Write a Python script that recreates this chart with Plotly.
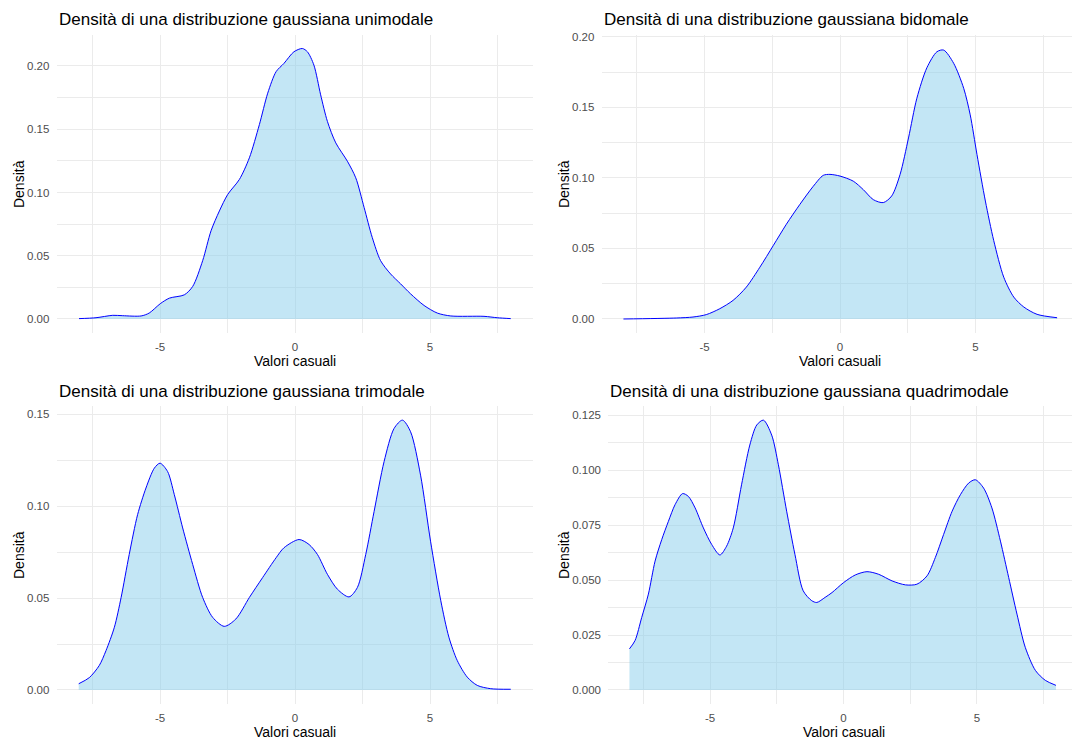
import plotly.graph_objects as go

# ---------------- data ----------------
uni_x = [-8.0, -7.37, -6.75, -6.38, -5.70, -5.40, -4.99, -4.65, -4.10, -3.79, -3.42, -3.11,
         -2.80, -2.49, -2.06, -1.69, -1.32, -1.01, -0.70, -0.41, -0.04, 0.27, 0.46, 0.70,
         0.95, 1.20, 1.51, 1.94, 2.25, 2.56, 2.86, 3.17, 3.54, 3.91, 4.28, 4.78, 5.27,
         5.77, 7.00, 7.49, 7.99]
uni_y = [0.0003, 0.0010, 0.0029, 0.0026, 0.0024, 0.0047, 0.0121, 0.0165, 0.0191, 0.0257,
         0.0461, 0.0697, 0.0854, 0.0985, 0.1103, 0.1274, 0.1536, 0.1785, 0.1955, 0.2020,
         0.2112, 0.2138, 0.2112, 0.2007, 0.1772, 0.1562, 0.1392, 0.1247, 0.1116, 0.0881,
         0.0645, 0.0461, 0.0356, 0.0278, 0.0199, 0.0107, 0.0047, 0.0024, 0.0021, 0.0010,
         0.0003]

bi_x = [-8.0, -6.05, -5.43, -4.94, -4.44, -3.95, -3.46, -2.96, -2.47, -1.98, -1.48, -0.99,
        -0.62, -0.37, 0.00, 0.49, 0.86, 1.23, 1.60, 1.91, 2.22, 2.53, 2.84, 3.21, 3.58,
        3.83, 4.20, 4.57, 4.81, 5.06, 5.37, 5.68, 6.05, 6.42, 6.79, 7.28, 8.02]
bi_y = [0.0000, 0.0007, 0.0014, 0.0031, 0.0073, 0.0132, 0.0226, 0.0367, 0.0519, 0.0672,
        0.0813, 0.0940, 0.1018, 0.1025, 0.1013, 0.0977, 0.0917, 0.0846, 0.0825, 0.0872,
        0.1025, 0.1283, 0.1565, 0.1781, 0.1894, 0.1906, 0.1812, 0.1635, 0.1447, 0.1166,
        0.0836, 0.0555, 0.0296, 0.0155, 0.0085, 0.0033, 0.0009]

tri_x = [-8.01, -7.62, -7.25, -7.00, -6.69, -6.44, -6.14, -5.83, -5.52, -5.21, -5.00, -4.72,
         -4.47, -4.16, -3.79, -3.42, -3.05, -2.62, -2.19, -1.69, -1.20, -0.70, -0.41, 0.15,
         0.52, 0.83, 1.20, 1.57, 2.00, 2.31, 2.62, 2.93, 3.30, 3.67, 3.98, 4.28, 4.65,
         5.02, 5.40, 5.70, 6.01, 6.38, 6.75, 7.25, 7.99]
tri_y = [0.0034, 0.0067, 0.0133, 0.0214, 0.0341, 0.0503, 0.0737, 0.0953, 0.1098, 0.1206,
         0.1233, 0.1188, 0.1062, 0.0881, 0.0683, 0.0503, 0.0395, 0.0346, 0.0386, 0.0503,
         0.0611, 0.0719, 0.0773, 0.0818, 0.0791, 0.0737, 0.0629, 0.0548, 0.0506, 0.0557,
         0.0737, 0.0971, 0.1242, 0.1422, 0.1467, 0.1404, 0.1168, 0.0809, 0.0485, 0.0287,
         0.0160, 0.0070, 0.0025, 0.0007, 0.0004]

quad_x = [-8.02, -7.81, -7.56, -7.31, -7.06, -6.81, -6.56, -6.31, -6.03, -5.81, -5.56, -5.25,
          -4.94, -4.63, -4.38, -4.13, -3.82, -3.51, -3.25, -3.00, -2.69, -2.44, -2.13,
          -1.82, -1.51, -1.19, -1.00, -0.69, -0.43, 0.00, 0.44, 0.88, 1.32, 1.82, 2.32,
          2.75, 3.13, 3.44, 3.75, 4.07, 4.38, 4.69, 4.94, 5.25, 5.56, 5.88, 6.19, 6.50,
          6.81, 7.19, 7.56, 7.96]
quad_y = [0.0187, 0.0225, 0.0330, 0.0436, 0.0586, 0.0684, 0.0767, 0.0843, 0.0893, 0.0880,
          0.0828, 0.0737, 0.0662, 0.0614, 0.0654, 0.0737, 0.0933, 0.1114, 0.1205, 0.1227,
          0.1159, 0.1024, 0.0813, 0.0617, 0.0451, 0.0406, 0.0398, 0.0421, 0.0443, 0.0488,
          0.0523, 0.0538, 0.0526, 0.0496, 0.0478, 0.0481, 0.0519, 0.0602, 0.0707, 0.0813,
          0.0888, 0.0941, 0.0956, 0.0918, 0.0828, 0.0677, 0.0511, 0.0345, 0.0194, 0.0089,
          0.0044, 0.0021]

titles = ["Densità di una distribuzione gaussiana unimodale",
          "Densità di una distribuzione gaussiana bidomale",
          "Densità di una distribuzione gaussiana trimodale",
          "Densità di una distribuzione gaussiana quadrimodale"]
x_label = "Valori casuali"
y_label = "Densità"
x_tick_vals = [-5, 0, 5]
x_tick_text = ["-5", "0", "5"]

series = [(uni_x, uni_y), (bi_x, bi_y), (tri_x, tri_y), (quad_x, quad_y)]

# ---------------- layout (pixel geometry) ----------------
W, H = 1072, 743
FONT = "Liberation Sans, Arial, sans-serif"
GRID = "#EBEBEB"

panels = [
    dict(left=56.7, x0=295.0, sx=27.0, top=31, bottom=331, y0=316.7, sy=1272.0,
         ydt=0.05, yminor=0.025, yfmt=".2f", ytitle_px=19, title_px=16, xtitle_px=358.5),
    dict(left=601.7, x0=840.0, sx=27.07, top=31, bottom=331, y0=316.7, sy=1418.5,
         ydt=0.05, yminor=0.025, yfmt=".2f", ytitle_px=564, title_px=16, xtitle_px=358.5),
    dict(left=56.7, x0=295.0, sx=27.0, top=404, bottom=704, y0=689.7, sy=1849.3,
         ydt=0.05, yminor=0.025, yfmt=".2f", ytitle_px=19, title_px=390, xtitle_px=732),
    dict(left=608.3, x0=843.5, sx=26.69, top=404, bottom=704, y0=689.7, sy=2211.0,
         ydt=0.025, yminor=0.0125, yfmt=".3f", ytitle_px=564, title_px=390, xtitle_px=732),
]

fig = go.Figure()
annotations = []
layout_axes = {}

for i, (p, (xs, ys)) in enumerate(zip(panels, series)):
    n = "" if i == 0 else str(i + 1)
    right = min(W, p["x0"] + (p["x0"] - p["left"]))
    xr = [(p["left"] - p["x0"]) / p["sx"], (right - p["x0"]) / p["sx"]]
    yr = [(p["y0"] - p["bottom"]) / p["sy"], (p["y0"] - p["top"]) / p["sy"]]
    xdom = [p["left"] / W, right / W]
    ydom = [1 - p["bottom"] / H, 1 - p["top"] / H]

    fig.add_trace(go.Scatter(
        x=xs, y=ys, mode="lines", fill="tozeroy",
        fillcolor="rgba(135,206,235,0.5)",
        line=dict(color="#0000FF", width=1, shape="spline", smoothing=0.8),
        xaxis="x" + n, yaxis="y" + n, showlegend=False, hoverinfo="skip"))

    layout_axes["xaxis" + n] = dict(
        domain=xdom, range=xr, anchor="y" + n,
        tickmode="array", tickvals=x_tick_vals, ticktext=x_tick_text,
        showgrid=True, gridcolor=GRID, gridwidth=1.1, zeroline=False,
        showline=False, ticks="outside", ticklen=3, tickcolor="rgba(0,0,0,0)",
        tickfont=dict(family=FONT, size=11.5, color="#4D4D4D"),
        minor=dict(dtick=2.5, tick0=0, showgrid=True, gridcolor=GRID, gridwidth=0.6),
        fixedrange=True)
    layout_axes["yaxis" + n] = dict(
        domain=ydom, range=yr, anchor="x" + n, tick0=0, dtick=p["ydt"],
        tickformat=p["yfmt"], showgrid=True, gridcolor=GRID, gridwidth=1.1,
        zeroline=False, showline=False, ticks="outside", ticklen=4,
        tickcolor="rgba(0,0,0,0)",
        tickfont=dict(family=FONT, size=11.5, color="#4D4D4D"),
        minor=dict(dtick=p["yminor"], tick0=0, showgrid=True, gridcolor=GRID, gridwidth=0.6),
        fixedrange=True)

    annotations.append(dict(
        text=titles[i], xref="paper", yref="paper", x=p["left"] / W,
        y=1 - p["title_px"] / H, xanchor="left", yanchor="middle", showarrow=False,
        font=dict(family=FONT, size=17, color="black")))
    annotations.append(dict(
        text=x_label, xref="x" + n, yref="paper", x=0, y=1 - p["xtitle_px"] / H,
        xanchor="center", yanchor="middle", showarrow=False,
        font=dict(family=FONT, size=14, color="black")))
    annotations.append(dict(
        text=y_label, xref="paper", yref="paper", x=p["ytitle_px"] / W,
        y=1 - (p["top"] + p["bottom"]) / 2 / H, xanchor="center", yanchor="middle",
        textangle=-90, showarrow=False,
        font=dict(family=FONT, size=14, color="black")))

fig.update_layout(
    width=W, height=H, margin=dict(l=0, r=0, t=0, b=0),
    paper_bgcolor="white", plot_bgcolor="white",
    annotations=annotations, **layout_axes)

fig.write_html("out.html", config={"displayModeBar": False})
